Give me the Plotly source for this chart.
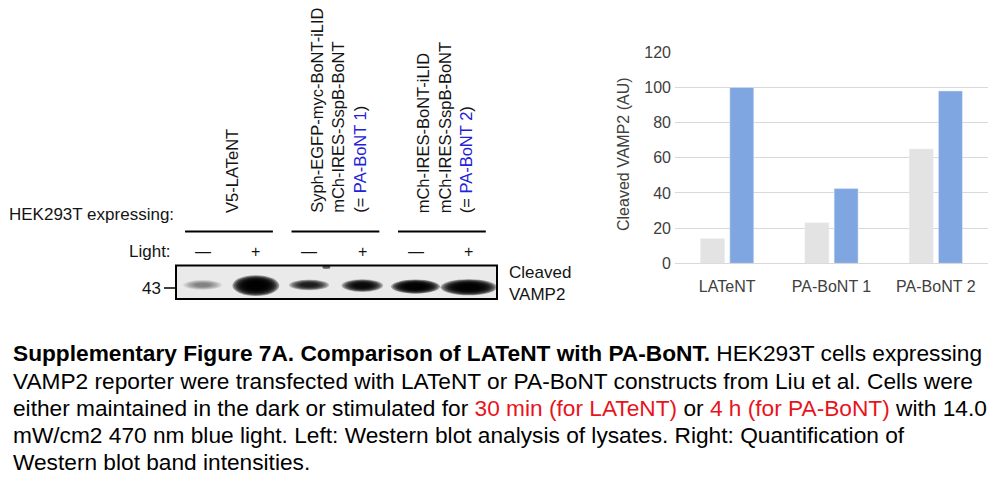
import plotly.graph_objects as go

# quantification (right panel)
categories = ["LATeNT", "PA-BoNT 1", "PA-BoNT 2"]
dark_values = [14, 23, 65]
light_values = [100, 42.5, 98]
y_ticks = [0, 20, 40, 60, 80, 100, 120]

# western blot (left panel)
light_signs = ["—", "+", "—", "+", "—", "+"]
band_darkness = [0.42, 0.99, 0.86, 0.95, 0.985, 0.985]
construct_labels = [
    ["V5-LATeNT"],
    ["Syph-EGFP-myc-BoNT-iLID", "mCh-IRES-SspB-BoNT",
     "(= <span style='color:#1f22d8'>PA-BoNT 1</span>)"],
    ["mCh-IRES-BoNT-iLID", "mCh-IRES-SspB-BoNT",
     "(= <span style='color:#1f22d8'>PA-BoNT 2</span>)"],
]

caption_lines = [
    "<b>Supplementary Figure 7A. Comparison of LATeNT with PA-BoNT.</b> HEK293T cells expressing",
    "VAMP2 reporter were transfected with LATeNT or PA-BoNT constructs from Liu et al. Cells were",
    "either maintained in the dark or stimulated for <span style='color:#e8141c'>30 min (for LATeNT)</span>"
    " or <span style='color:#e8141c'>4 h (for PA-BoNT)</span> with 14.0",
    "mW/cm2 470 nm blue light. Left: Western blot analysis of lysates. Right: Quantification of",
    "Western blot band intensities.",
]

W, H = 1000, 486
FONT = "Liberation Sans, Arial, sans-serif"
TXT = "#141414"


def px(x):
    return x / W


def py(y):
    return 1 - y / H


fig = go.Figure()
fig.add_trace(go.Bar(x=categories, y=dark_values, marker_color="#e3e3e3",
                     name="dark", xaxis="x", yaxis="y"))
fig.add_trace(go.Bar(x=categories, y=light_values, marker_color="#7fa6e0",
                     name="light", xaxis="x", yaxis="y"))
# invisible trace to hold the blot axes
fig.add_trace(go.Scatter(x=list(range(len(light_signs))), y=[0.5] * len(light_signs),
                         mode="markers", marker=dict(opacity=0), xaxis="x2", yaxis="y2",
                         hoverinfo="skip"))

shapes = []
annotations = []

# blot box background
shapes.append(dict(type="rect", xref="paper", yref="paper", x0=px(176), x1=px(497),
                   y0=py(299), y1=py(265.5), fillcolor="#eaeaea", line=dict(width=0), layer="below"))

# bands: stacked soft ellipses (lane units / blot-height units)
band_w = [0.74, 0.88, 0.76, 0.78, 0.92, 1.06]
band_h = [0.30, 0.62, 0.32, 0.38, 0.42, 0.48]
band_y = [0.42, 0.40, 0.42, 0.40, 0.37, 0.35]
n_layers = 10
for i, d in enumerate(band_darkness):
    a = 1 - (1 - d) ** (1 / n_layers)
    for k in range(n_layers):
        s = 1 - k * 0.07
        shapes.append(dict(type="circle", xref="x2", yref="y2",
                           x0=i - band_w[i] * s / 2, x1=i + band_w[i] * s / 2,
                           y0=band_y[i] - band_h[i] * s / 2, y1=band_y[i] + band_h[i] * s / 2,
                           fillcolor="black", opacity=a, line=dict(width=0)))
# small speck above lane 3
shapes.append(dict(type="circle", xref="x2", yref="y2", x0=2.25, x1=2.4, y0=0.9, y1=1.0,
                   fillcolor="#222", opacity=0.7, line=dict(width=0)))

shapes.append(dict(type="rect", xref="paper", yref="paper", x0=px(176), x1=px(497),
                   y0=py(299), y1=py(265.5), line=dict(color="black", width=2)))
# 43 kDa marker tick
shapes.append(dict(type="line", xref="paper", yref="paper", x0=px(164), x1=px(176),
                   y0=py(288), y1=py(288), line=dict(color="black", width=1.5)))

# group lines + rotated construct labels
for g, lines in enumerate(construct_labels):
    a0, a1 = 2 * g, 2 * g + 1
    shapes.append(dict(type="line", xref="x2", yref="paper", x0=a0 - 0.33, x1=a1 + 0.32,
                       y0=py(231.5), y1=py(231.5), line=dict(color="black", width=2)))
    annotations.append(dict(text="<br>".join(lines), xref="x2", yref="paper",
                            x=(a0 + a1) / 2 + 0.05, y=py(215), xanchor="center", yanchor="bottom",
                            textangle=-90, align="left", showarrow=False,
                            font=dict(size=16.5, color=TXT, family=FONT)))

for i, s in enumerate(light_signs):
    annotations.append(dict(text=s, xref="x2", yref="paper", x=i, y=py(251),
                            xanchor="center", yanchor="middle", showarrow=False,
                            font=dict(size=16, color=TXT, family=FONT)))

annotations += [
    dict(text="HEK293T expressing:", xref="paper", yref="paper", x=px(7), y=py(214),
         xanchor="left", yanchor="middle", showarrow=False,
         font=dict(size=17, color=TXT, family=FONT)),
    dict(text="Light:", xref="paper", yref="paper", x=px(173), y=py(251),
         xanchor="right", yanchor="middle", showarrow=False,
         font=dict(size=17, color=TXT, family=FONT)),
    dict(text="43", xref="paper", yref="paper", x=px(163), y=py(288),
         xanchor="right", yanchor="middle", showarrow=False,
         font=dict(size=17, color=TXT, family=FONT)),
    dict(text="Cleaved<br>VAMP2", xref="paper", yref="paper", x=px(507), y=py(283.5),
         xanchor="left", yanchor="middle", align="left", showarrow=False,
         font=dict(size=17, color=TXT, family=FONT)),
    dict(text="Cleaved VAMP2 (AU)", xref="paper", yref="paper", x=px(623), y=py(154),
         xanchor="center", yanchor="middle", textangle=-90, showarrow=False,
         font=dict(size=16, color="#404040", family=FONT)),
]

caption_y = [353, 380.5, 407.5, 434.5, 461.5]
for line, yy in zip(caption_lines, caption_y):
    annotations.append(dict(text=line, xref="paper", yref="paper", x=px(11), y=py(yy),
                            xanchor="left", yanchor="middle", showarrow=False,
                            font=dict(size=22.7, color="black", family=FONT)))

fig.update_layout(
    width=W, height=H,
    margin=dict(l=0, r=0, t=0, b=0, pad=0, autoexpand=False),
    paper_bgcolor="white", plot_bgcolor="white",
    showlegend=False,
    barmode="group", bargap=0.44, bargroupgap=0.18,
    font=dict(family=FONT),
    xaxis=dict(domain=[px(675), px(988)], anchor="y", showgrid=False, zeroline=False,
               showline=False, ticks="", ticklabelstandoff=12, automargin=False,
               tickfont=dict(size=16, color="#404040")),
    yaxis=dict(domain=[py(263.3), py(52.3)], anchor="x", range=[0, 120], tickvals=y_ticks,
               showgrid=True, gridcolor="#d9d9d9", gridwidth=1, zeroline=True,
               zerolinecolor="#d9d9d9", zerolinewidth=1, ticks="", ticklabelstandoff=3,
               automargin=False, tickfont=dict(size=16, color="#404040")),
    xaxis2=dict(domain=[px(176), px(497)], anchor="y2", range=[-0.5, 5.53], visible=False,
                automargin=False),
    yaxis2=dict(domain=[py(299), py(265.5)], anchor="x2", range=[0, 1], visible=False,
                automargin=False),
    shapes=shapes,
    annotations=annotations,
)

# drop the default 8px body margin so the figure sits at the page origin
fig.write_html("out.html", config={"displayModeBar": False},
               post_script="document.body.style.margin='0';")
